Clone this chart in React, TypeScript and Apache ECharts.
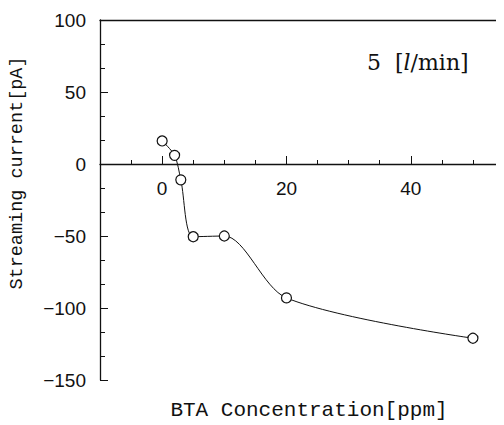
import React, { useEffect, useRef } from "react";
import * as echarts from "echarts";

const concentrations = [0, 2, 3, 5, 10, 20, 50];
const currents = [16, 6, -11, -50.5, -50, -93, -121];
const xMajorTicks = [0, 20, 40];
const flowLabel = "5";
const yTitle = "Streaming current[pA]";
const xTitle = "BTA Concentration[ppm]";

const Y_MIN = -150;
const Y_MAX = 100;
const GRID_H = 360;

export default function App() {
  const ref = useRef<HTMLDivElement>(null);
  useEffect(() => {
    if (!ref.current) return;
    const chart = echarts.init(ref.current, null, { renderer: "svg" });
    const ink = "#111";
    const data = concentrations.map((c, i) => [c, currents[i]]);
    const zeroOffset = -((0 - Y_MIN) / (Y_MAX - Y_MIN)) * GRID_H;
    chart.setOption({
      animation: false,
      backgroundColor: "#fff",
      grid: { left: 100, top: 20, width: 404, height: GRID_H, containLabel: false, outerBoundsMode: "none" },
      xAxis: [
        {
          type: "value",
          position: "bottom",
          min: -10,
          max: 55,
          interval: 5,
          axisLine: { onZero: true, lineStyle: { color: ink, width: 1.3 } },
          axisTick: { inside: true, length: 4, lineStyle: { color: ink } },
          axisLabel: { show: false },
          splitLine: { show: false },
        },
        {
          type: "value",
          position: "bottom",
          offset: zeroOffset,
          min: -10,
          max: 55,
          interval: 5,
          axisLine: { show: false, onZero: false },
          axisTick: { inside: true, length: 8, customValues: xMajorTicks, lineStyle: { color: ink } },
          axisLabel: {
            customValues: xMajorTicks,
            margin: 15,
            color: ink,
            fontFamily: "Liberation Sans",
            fontSize: 19,
          },
          splitLine: { show: false },
        },
        {
          type: "value",
          position: "top",
          min: -10,
          max: 55,
          axisLine: { show: true, onZero: false, lineStyle: { color: ink, width: 1.3 } },
          axisTick: { show: false },
          axisLabel: { show: false },
          splitLine: { show: false },
        },
      ],
      yAxis: {
        type: "value",
        min: Y_MIN,
        max: Y_MAX,
        interval: 50,
        axisLine: { show: true, onZero: false, lineStyle: { color: ink, width: 1.3 } },
        axisTick: { show: true, inside: true, length: 8, lineStyle: { color: ink } },
        minorTick: { show: true, splitNumber: 3, length: 5, lineStyle: { color: ink } },
        axisLabel: {
          margin: 14,
          color: ink,
          fontFamily: "Liberation Sans",
          fontSize: 19,
          formatter: (v: number) => (v < 0 ? "\u2212" + Math.abs(v) : String(v)),
        },
        splitLine: { show: false },
      },
      graphic: [
        {
          type: "text",
          x: 17,
          y: 173,
          rotation: Math.PI / 2,
          style: {
            text: yTitle,
            fontFamily: "Liberation Mono",
            fontSize: 18.5,
            fill: ink,
            align: "center",
            verticalAlign: "middle",
          },
        },
        {
          type: "text",
          x: 309,
          y: 410,
          style: {
            text: xTitle,
            fontFamily: "Liberation Mono",
            fontSize: 21,
            fill: ink,
            align: "center",
            verticalAlign: "middle",
          },
        },
        {
          type: "text",
          x: 367,
          y: 62,
          style: {
            text: "{n|" + flowLabel + "  [}{i|l}{n|/min]}",
            verticalAlign: "middle",
            rich: {
              n: { fontFamily: "DejaVu Serif", fontSize: 22, fill: ink, color: ink },
              i: { fontFamily: "DejaVu Serif", fontStyle: "italic", fontSize: 22, fill: ink, color: ink },
            },
          },
        },
      ],
      series: [
        {
          type: "line",
          xAxisIndex: 0,
          data,
          smooth: 0.3,
          symbol: "circle",
          symbolSize: 10,
          lineStyle: { color: ink, width: 1 },
          itemStyle: { color: "#fff", borderColor: ink, borderWidth: 1.2 },
        },
      ],
    });
    return () => chart.dispose();
  }, []);
  return <div ref={ref} style={{ width: 504, height: 425, marginLeft: -8, marginTop: -8 }} />;
}
